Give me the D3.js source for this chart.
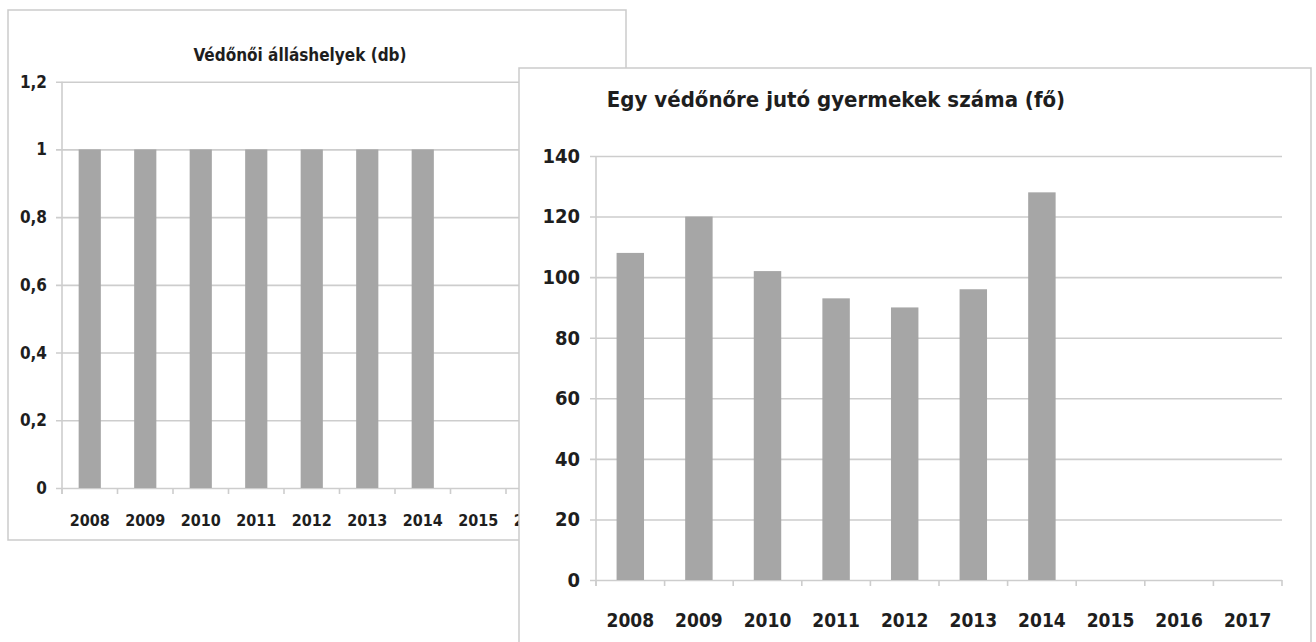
<!DOCTYPE html>
<meta charset="utf-8" />
<style>
  body { margin: 0; background: #fff; }
  svg { display: block; }
  text {
    font-family: "DejaVu Sans Condensed", "Liberation Sans Narrow", "Roboto Condensed", "DejaVu Sans", sans-serif;
    font-weight: bold;
    fill: #1e1e1e;
  }
</style>

<script src="https://d3js.org/d3.v7.min.js"></script>

<svg id="chart" width="1316" height="642"></svg>

<script>
  // data
  const years = ['2008', '2009', '2010', '2011', '2012', '2013', '2014', '2015', '2016', '2017'];
  const allashelyek = [1, 1, 1, 1, 1, 1, 1, null, null, null];
  const gyermekek = [108, 120, 102, 93, 90, 96, 128, null, null, null];
  const leftTicks = [0, 0.2, 0.4, 0.6, 0.8, 1, 1.2];
  const rightTicks = [0, 20, 40, 60, 80, 100, 120, 140];

  const svg = d3.select('#chart');
  const gridColor = '#cdcdcd';
  const barColor = '#a6a6a6';
  const fmtComma = d => String(d).replace('.', ',');

  function drawChart(opt) {
    const g = svg.append('g');

    // chart frame
    g.append('rect')
      .attr('x', opt.frame[0]).attr('y', opt.frame[1])
      .attr('width', opt.frame[2]).attr('height', opt.frame[3])
      .attr('fill', '#fff')
      .attr('stroke', '#cbcbcb')
      .attr('stroke-width', 1.5);

    g.append('text')
      .attr('x', opt.titleX).attr('y', opt.titleY)
      .attr('text-anchor', 'middle')
      .style('font-size', opt.titleSize + 'px')
      .text(opt.title);

    const x = d3.scaleBand()
      .domain(years)
      .range(opt.xRange)
      .paddingInner(0.6)
      .paddingOuter(0.3);

    const y = d3.scaleLinear()
      .domain([0, opt.max])
      .range(opt.yRange);

    // gridlines
    g.append('g')
      .attr('transform', 'translate(' + opt.xRange[1] + ',0)')
      .call(d3.axisRight(y).tickValues(opt.ticks).tickSize(-(opt.xRange[1] - opt.xRange[0]) - 6).tickFormat(''))
      .call(a => a.select('.domain').remove())
      .call(a => a.selectAll('line').attr('stroke', gridColor).attr('stroke-width', 1.6));

    // y labels
    g.append('g')
      .attr('transform', 'translate(' + (opt.xRange[0] - 6) + ',0)')
      .call(d3.axisLeft(y).tickValues(opt.ticks).tickSize(0).tickPadding(opt.yPad).tickFormat(opt.fmt))
      .call(a => a.select('.domain').remove())
      .call(a => a.selectAll('text').style('font-size', opt.ySize + 'px').attr('fill', '#1e1e1e'));

    // vertical axis line
    g.append('line')
      .attr('x1', opt.xRange[0]).attr('x2', opt.xRange[0])
      .attr('y1', opt.yRange[1]).attr('y2', opt.yRange[0] + 6)
      .attr('stroke', gridColor).attr('stroke-width', 1.6);

    // bars
    g.append('g')
      .selectAll('rect')
      .data(years.map((yr, i) => ({ yr: yr, v: opt.values[i] })).filter(d => d.v != null))
      .join('rect')
      .attr('x', d => x(d.yr))
      .attr('width', x.bandwidth())
      .attr('y', d => y(d.v))
      .attr('height', d => y(0) - y(d.v))
      .attr('fill', barColor);

    // category tick marks at boundaries
    const bounds = d3.range(years.length + 1).map(i => opt.xRange[0] + i * x.step());
    g.append('g')
      .selectAll('line')
      .data(bounds)
      .join('line')
      .attr('x1', d => d).attr('x2', d => d)
      .attr('y1', y(0)).attr('y2', y(0) + 6)
      .attr('stroke', gridColor).attr('stroke-width', 1.6);

    // x labels
    g.append('g')
      .selectAll('text')
      .data(years)
      .join('text')
      .attr('x', d => x(d) + x.bandwidth() / 2)
      .attr('y', opt.xLabelY)
      .attr('text-anchor', 'middle')
      .style('font-size', opt.xSize + 'px')
      .text(d => d);
  }

  // left chart (partly hidden)
  drawChart({
    frame: [8, 10, 618, 530],
    title: 'Védőnői álláshelyek (db)',
    titleX: 300, titleY: 61, titleSize: 17,
    xRange: [62, 617],
    yRange: [488, 81.7],
    max: 1.2,
    ticks: leftTicks,
    fmt: fmtComma,
    values: allashelyek,
    yPad: 9, ySize: 17,
    xLabelY: 526, xSize: 16
  });

  // right chart on top
  drawChart({
    frame: [519, 68, 792, 600],
    title: 'Egy védőnőre jutó gyermekek száma (fő)',
    titleX: 836, titleY: 107, titleSize: 22,
    xRange: [596, 1282],
    yRange: [580, 156],
    max: 140,
    ticks: rightTicks,
    fmt: d => d,
    values: gyermekek,
    yPad: 10, ySize: 20,
    xLabelY: 627, xSize: 19
  });
</script>
